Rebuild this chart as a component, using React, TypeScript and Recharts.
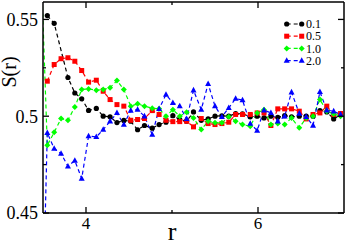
import { LineChart, Line, XAxis, YAxis, Legend } from "recharts";

// r grid (first point lies just left of the plotted range)
const rValues = [
  3.46, 3.55, 3.63, 3.71, 3.79, 3.87, 3.95, 4.03, 4.12, 4.2, 4.28, 4.36, 4.44, 4.52, 4.6,
  4.68, 4.77, 4.85, 4.93, 5.01, 5.09, 5.17, 5.25, 5.34, 5.42, 5.5, 5.58, 5.66, 5.74, 5.82,
  5.91, 5.99, 6.07, 6.15, 6.23, 6.31, 6.39, 6.48, 6.56, 6.64, 6.72, 6.8, 6.88, 6.96,
];

const s01 = [
  null, 0.552, 0.548, null, 0.52, 0.512, 0.509, 0.503, 0.504, 0.5, 0.4997, 0.4967, 0.4978,
  0.4974, 0.493, 0.4952, 0.4938, 0.4957, 0.4969, 0.5003, 0.4983, 0.4974, 0.5022, 0.4979,
  0.4986, 0.5, 0.5002, 0.5, 0.5014, 0.5012, 0.4997, 0.5, 0.4991, 0.5, 0.4994, 0.5003,
  0.4997, 0.5, 0.5, 0.5, 0.5029, 0.5022, 0.4986, 0.5007,
];

const s05 = [
  null, 0.5181, 0.5267, 0.5297, 0.5302, 0.5284, 0.5236, 0.5176, 0.5186, 0.5129, 0.5086,
  0.506, 0.5052, 0.4979, 0.4983, 0.4988, 0.5029, 0.5009, 0.4979, 0.4972, 0.4972, 0.4974,
  0.4945, 0.4988, 0.4962, 0.4957, 0.4962, 0.4969, 0.5009, 0.5009, 0.5009, 0.5017, 0.5017,
  0.4952, 0.5038, 0.5038, 0.5038, 0.5026, 0.4986, 0.5009, 0.5017, 0.5052, 0.5009, 0.5014,
];

const s10 = [
  0.6, 0.485, 0.4917, 0.4988, 0.4979, 0.5048, 0.5138, 0.5141, 0.5134, 0.5138, 0.5147,
  0.5184, 0.5138, 0.5052, 0.5064, 0.5052, 0.5041, 0.5038, 0.5, 0.5034, 0.5, 0.5021, 0.4991,
  0.4931, 0.4974, 0.4966, 0.4966, 0.4997, 0.4974, 0.4957, 0.4948, 0.5017, 0.5034, 0.4957,
  0.4962, 0.4957, 0.4991, 0.494, 0.4991, 0.5, 0.5086, 0.5026, 0.5012, 0.5,
];

const s20 = [
  0.33, 0.4914, 0.4833, 0.4807, 0.4741, 0.4771, 0.4678, 0.4897, 0.4893, 0.4931, 0.4974,
  0.5017, 0.4957, 0.5029, 0.5034, 0.5, 0.4905, 0.5038, 0.5112, 0.5069, 0.5052, 0.4986,
  0.5134, 0.5034, 0.5167, 0.5052, 0.4997, 0.5043, 0.5091, 0.5083, 0.4962, 0.4926, 0.5031,
  0.5017, 0.4974, 0.5, 0.5124, 0.5014, 0.4997, 0.4952, 0.5126, 0.5031, 0.5026, 0.5009,
];

const xTicks = [4, 5, 6];
const xLabeled = [4, 6];
const yTicks = [0.45, 0.475, 0.5, 0.525, 0.55];
const yLabeled = [0.45, 0.5, 0.55];

const data = rValues.map((r, i) => ({ r, s01: s01[i], s05: s05[i], s10: s10[i], s20: s20[i] }));

const series = [
  { key: "s01", label: "0.1", color: "#000000", shape: "circle" },
  { key: "s05", label: "0.5", color: "#ff0000", shape: "square" },
  { key: "s10", label: "1.0", color: "#00ff00", shape: "diamond" },
  { key: "s20", label: "2.0", color: "#0000ff", shape: "triangle" },
];

const FONT = "'Liberation Serif', 'DejaVu Serif', serif";

const Marker = ({ cx, cy, shape, color }: any) => {
  if (shape === "circle") return <circle cx={cx} cy={cy} r={2.6} fill={color} />;
  if (shape === "square") return <rect x={cx - 2.5} y={cy - 2.5} width={5} height={5} fill={color} />;
  if (shape === "diamond")
    return <polygon points={`${cx},${cy - 3} ${cx + 3},${cy} ${cx},${cy + 3} ${cx - 3},${cy}`} fill={color} />;
  return <polygon points={`${cx},${cy - 3.4} ${cx + 3},${cy + 2.2} ${cx - 3},${cy + 2.2}`} fill={color} />;
};

const BottomTick = ({ x, y, payload }: any) => {
  const major = xLabeled.includes(payload.value);
  return (
    <g>
      <line x1={x} x2={x} y1={y} y2={y - (major ? 6 : 3)} stroke="#000" strokeWidth={1.3} />
      {major && (
        <text x={x} y={y + 16} textAnchor="middle" fontSize={17} fontFamily={FONT} fill="#000">
          {payload.value}
        </text>
      )}
    </g>
  );
};

const TopTick = ({ x, y, payload }: any) => {
  const major = xLabeled.includes(payload.value);
  return <line x1={x} x2={x} y1={y} y2={y + (major ? 6 : 3)} stroke="#000" strokeWidth={1.3} />;
};

const LeftTick = ({ x, y, payload }: any) => {
  const major = yLabeled.includes(payload.value);
  return (
    <g>
      <line x1={x} x2={x + (major ? 6 : 3)} y1={y} y2={y} stroke="#000" strokeWidth={1.3} />
      {major && (
        <text x={x - 5} y={y} dy="0.35em" textAnchor="end" fontSize={18} fontFamily={FONT} fill="#000">
          {payload.value}
        </text>
      )}
    </g>
  );
};

const RightTick = ({ x, y, payload }: any) => {
  const major = yLabeled.includes(payload.value);
  return <line x1={x} x2={x - (major ? 6 : 3)} y1={y} y2={y} stroke="#000" strokeWidth={1.3} />;
};

const LegendBox = () => (
  <svg width={60} height={60} style={{ display: "block" }}>
    {series.map((s, i) => {
      const y = 9 + 12.2 * i;
      return (
        <g key={s.key}>
          <line x1={6.7} x2={21.7} y1={y} y2={y} stroke={s.color} strokeWidth={1.2} strokeDasharray="4 3" />
          <Marker cx={6.7} cy={y} shape={s.shape} color={s.color} />
          <Marker cx={21.7} cy={y} shape={s.shape} color={s.color} />
          <text x={26} y={y} dy="0.35em" fontSize={12} fontFamily={FONT} fill="#000">
            {s.label}
          </text>
        </g>
      );
    })}
  </svg>
);

export default function App() {
  return (
    <div style={{ position: "absolute", left: 0, top: 0, background: "#fff" }}>
      <LineChart width={346} height={244} data={data} margin={{ top: 2, right: 2, left: 0, bottom: 0 }}>
        <XAxis
          dataKey="r"
          type="number"
          domain={[3.5, 7]}
          allowDataOverflow
          ticks={xTicks}
          interval={0}
          height={31}
          tickSize={0}
          tickMargin={0}
          tickLine={false}
          tick={<BottomTick />}
          axisLine={{ stroke: "#000", strokeWidth: 1.5 }}
          label={{
            content: () => (
              <text x={172} y={240} textAnchor="middle" fontSize={26} fontFamily={FONT} fill="#000">
                r
              </text>
            ),
          }}
        />
        <XAxis
          xAxisId="top"
          dataKey="r"
          orientation="top"
          mirror
          type="number"
          domain={[3.5, 7]}
          allowDataOverflow
          ticks={xTicks}
          interval={0}
          tickSize={0}
          tickMargin={0}
          tickLine={false}
          tick={<TopTick />}
          axisLine={{ stroke: "#000", strokeWidth: 1.5 }}
        />
        <YAxis
          type="number"
          domain={[0.45, 0.559]}
          allowDataOverflow
          ticks={yTicks}
          interval={0}
          width={43}
          tickSize={0}
          tickMargin={0}
          tickLine={false}
          tick={<LeftTick />}
          axisLine={{ stroke: "#000", strokeWidth: 1.5 }}
          label={{
            content: () => (
              <text
                x={16}
                y={72}
                transform="rotate(-90 16 72)"
                textAnchor="middle"
                fontSize={20}
                fontFamily={FONT}
                fill="#000"
              >
                S(r)
              </text>
            ),
          }}
        />
        <YAxis
          yAxisId="right"
          orientation="right"
          mirror
          type="number"
          domain={[0.45, 0.559]}
          allowDataOverflow
          ticks={yTicks}
          interval={0}
          tickSize={0}
          tickMargin={0}
          tickLine={false}
          tick={<RightTick />}
          axisLine={{ stroke: "#000", strokeWidth: 1.5 }}
        />
        <Legend
          layout="vertical"
          align="center"
          verticalAlign="middle"
          wrapperStyle={{ position: "absolute", left: 280, top: 15, width: 60, height: 60 }}
          content={() => <LegendBox />}
        />
        {series.map((s) => (
          <Line
            key={s.key}
            dataKey={s.key}
            type="linear"
            stroke={s.color}
            strokeWidth={1.2}
            strokeDasharray="4 3"
            connectNulls
            isAnimationActive={false}
            dot={(p: any) =>
              p.cy == null || p.value == null ? (
                <g key={p.index} />
              ) : (
                <Marker key={p.index} cx={p.cx} cy={p.cy} shape={s.shape} color={s.color} />
              )
            }
            activeDot={false}
          />
        ))}
      </LineChart>
    </div>
  );
}
